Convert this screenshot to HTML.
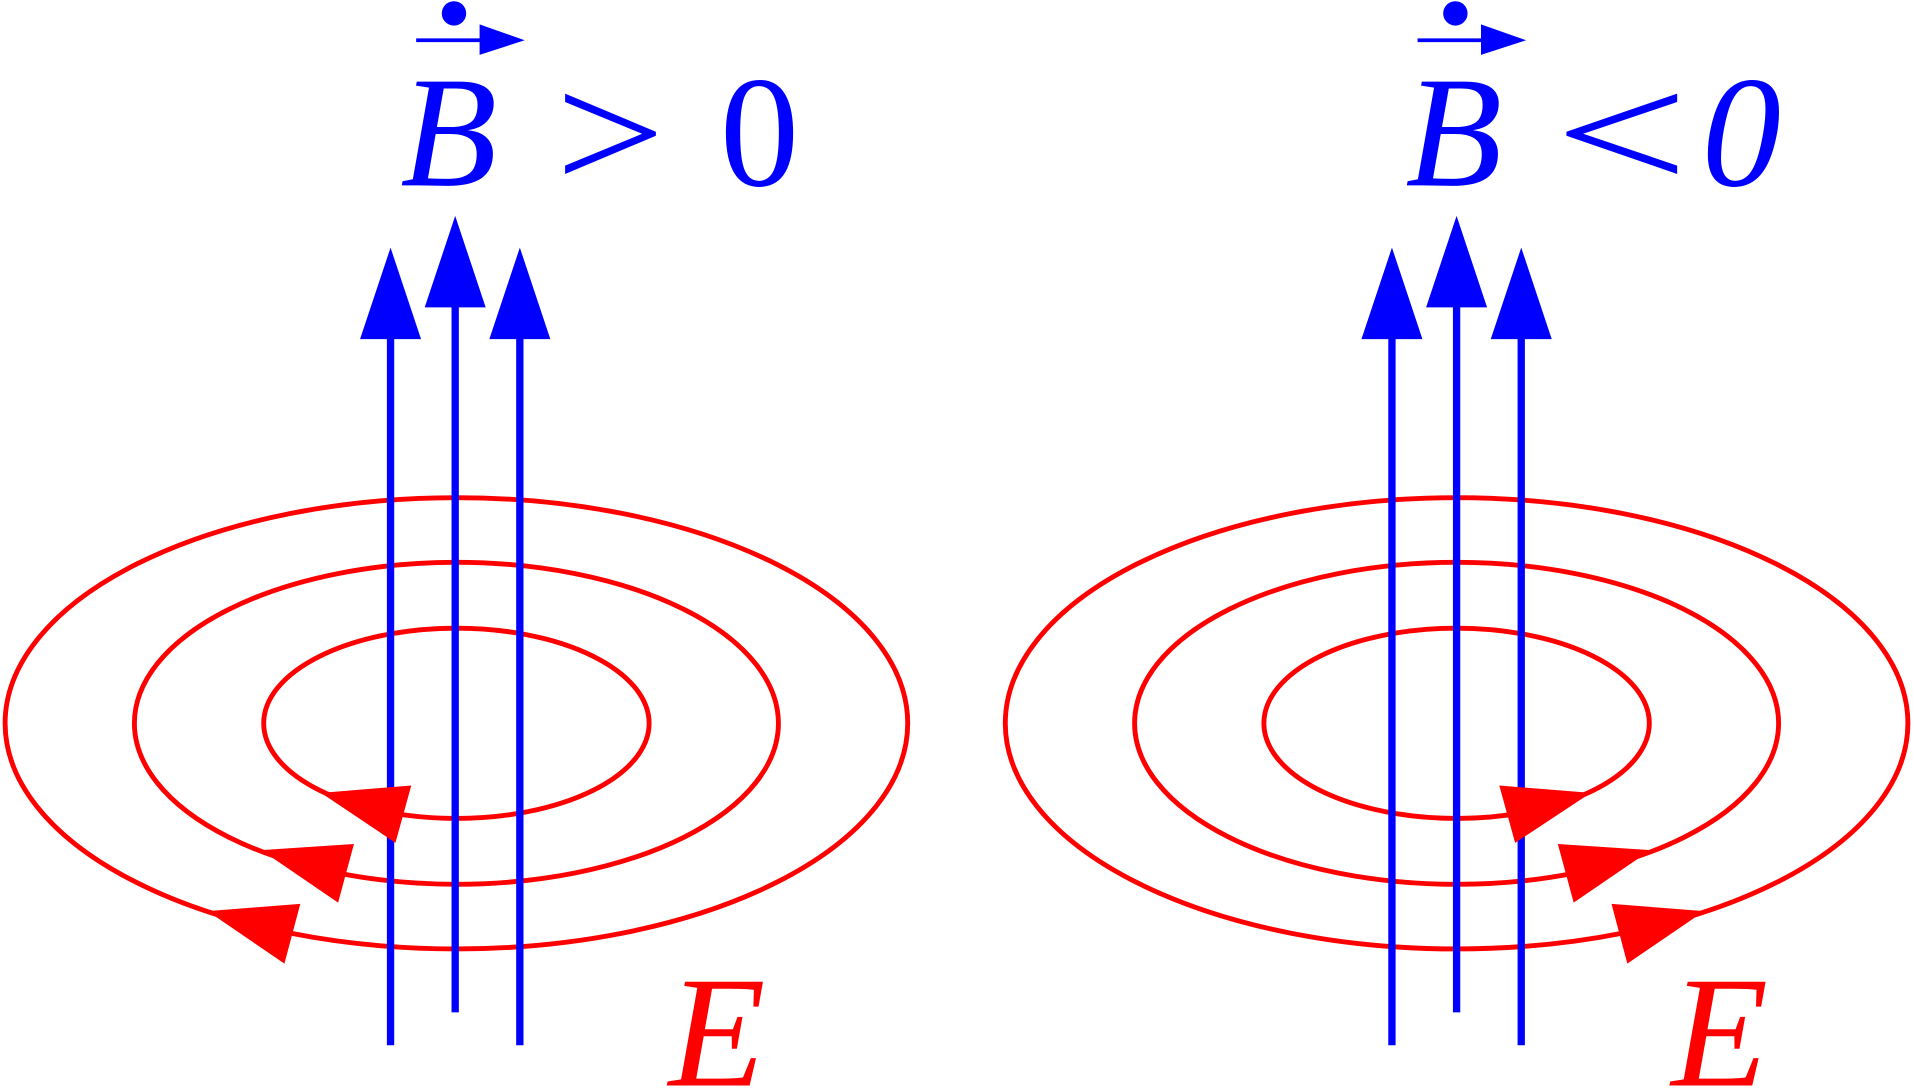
<!DOCTYPE html>
<html><head><meta charset="utf-8"><style>html,body{margin:0;padding:0;background:#fff}svg{display:block}</style></head>
<body>
<svg width="1913" height="1088" viewBox="0 0 1568 892" xmlns="http://www.w3.org/2000/svg">
<g fill="none" stroke="#ff0000" stroke-width="4">
<ellipse cx="374" cy="593" rx="370" ry="185"/>
<ellipse cx="374" cy="593" rx="264" ry="132"/>
<ellipse cx="374" cy="593" rx="158" ry="78"/>
<ellipse cx="1194" cy="593" rx="370" ry="185"/>
<ellipse cx="1194" cy="593" rx="264" ry="132"/>
<ellipse cx="1194" cy="593" rx="158" ry="78"/>
</g>
<g stroke="#0000ff" stroke-width="6">
<line x1="320" y1="270" x2="320" y2="857"/>
<line x1="373" y1="245" x2="373" y2="830"/>
<line x1="426" y1="270" x2="426" y2="857"/>
<line x1="1141" y1="270" x2="1141" y2="857"/>
<line x1="1194" y1="245" x2="1194" y2="830"/>
<line x1="1247" y1="270" x2="1247" y2="857"/>
</g>
<g fill="#0000ff">
<polygon points="320,203 295,278 345,278"/>
<polygon points="373,177 348,252 398,252"/>
<polygon points="426,203 401,278 451,278"/>
<polygon points="1141,203 1116,278 1166,278"/>
<polygon points="1194,177 1169,252 1219,252"/>
<polygon points="1247,203 1222,278 1272,278"/>
</g>
<g fill="#ff0000">
<polygon points="263,650 337,644 324,691"/>
<polygon points="214,697 290,692 277,740"/>
<polygon points="170,747 246,741 233,790"/>
<polygon points="1304,650 1229,644 1242,691"/>
<polygon points="1353,697 1277,692 1290,740"/>
<polygon points="1397,747 1321,741 1334,790"/>
</g>
<g fill="#0000ff">
<circle cx="372" cy="11" r="10"/>
<line x1="341" y1="33" x2="396" y2="33" stroke="#0000ff" stroke-width="3"/>
<polygon points="393,20 430,33 393,45"/>
<circle cx="1193" cy="11" r="10"/>
<line x1="1162" y1="33" x2="1217" y2="33" stroke="#0000ff" stroke-width="3"/>
<polygon points="1214,20 1251,33 1214,45"/>
</g>
<g font-family="Liberation Serif, serif" font-size="130" fill="#0000ff">
<text x="328" y="152" font-style="italic">B</text>
<text transform="translate(455,155) scale(1.23,1.05)" x="0" y="0">&gt;</text>
<text x="590" y="152">0</text>
<text x="1152" y="152" font-style="italic">B</text>
<text transform="translate(1262,155) scale(1.5,1.05)" x="0" y="0" font-style="italic">&lt;</text>
<text x="1395" y="152" font-style="italic">0</text>
</g>
<g font-family="Liberation Serif, serif" font-size="130" fill="#ff0000" font-style="italic">
<text x="548" y="890">E</text>
<text x="1370" y="890">E</text>
</g>
</svg>
</body></html>
